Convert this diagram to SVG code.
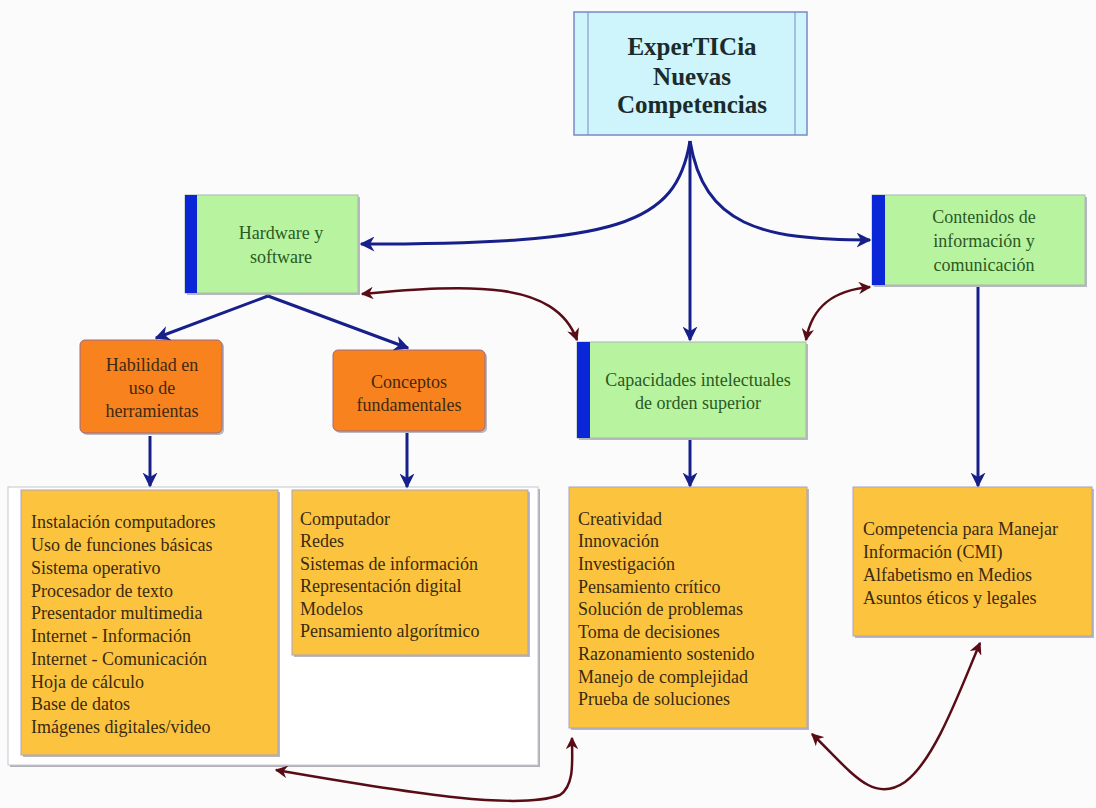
<svg xmlns="http://www.w3.org/2000/svg" width="1096" height="808" viewBox="0 0 1096 808">
<defs>
<marker id="ab" viewBox="0 0 10 10" refX="9" refY="5" markerWidth="5" markerHeight="5" orient="auto-start-reverse" markerUnits="strokeWidth"><path d="M0,0 L10,5 L0,10 L3,5 z" fill="#17208a"/></marker>
<marker id="ar" viewBox="0 0 10 10" refX="9" refY="5" markerWidth="5" markerHeight="5" orient="auto-start-reverse" markerUnits="strokeWidth"><path d="M0,0 L10,5 L0,10 L3,5 z" fill="#5a0c16"/></marker>
<style>
text{font-family:"Liberation Serif","Times New Roman",serif;font-size:18px}
.title{font-weight:bold;font-size:25px;fill:#1b2b2b;text-anchor:middle}
.g{fill:#b8f4a0;stroke:#a8b8b0;stroke-width:1}
.bar{fill:#0b26d6}
.gt{fill:#2a5a22;text-anchor:middle}
.o{fill:#f7821e;stroke:#9a6a8a;stroke-width:1}
.ot{fill:#3e2a12;text-anchor:middle}
.y{fill:#fcc43e;stroke:#a9a2c0;stroke-width:1}
.yt{fill:#3a2a12}
.sh{fill:#b8b8c0}
.cb{fill:none;stroke:#17208a;stroke-width:3}
.cr{fill:none;stroke:#5a0c16;stroke-width:2.5}
</style>
</defs>
<rect width="1096" height="808" fill="#fbfbfb"/>

<g id="frame">
<rect x="10" y="489" width="530" height="278" fill="#b0b0b8"/>
<rect x="8" y="487" width="530" height="278" fill="#ffffff" stroke="#c8c8d0" stroke-width="1"/>
</g>

<g id="top">
<rect x="574" y="12" width="233" height="123" fill="#cdf5fb" stroke="#7a88c8" stroke-width="1.5"/>
<line x1="588" y1="12" x2="588" y2="135" stroke="#7a88c8" stroke-width="1"/>
<line x1="795" y1="12" x2="795" y2="135" stroke="#7a88c8" stroke-width="1"/>
<text class="title" x="692" y="55">ExperTICia</text>
<text class="title" x="692" y="85">Nuevas</text>
<text class="title" x="692" y="113">Competencias</text>
</g>

<g id="hardware">
<rect class="sh" x="187" y="197" width="173" height="98"/>
<rect class="g" x="185" y="195" width="173" height="98"/>
<rect class="bar" x="185" y="195" width="12" height="98"/>
<text class="gt" x="281" y="239">Hardware y</text>
<text class="gt" x="281" y="263">software</text>
</g>

<g id="contenidos">
<rect class="sh" x="874" y="197" width="213" height="90"/>
<rect class="g" x="872" y="195" width="213" height="90"/>
<rect class="bar" x="872" y="195" width="13" height="90"/>
<text class="gt" x="984" y="223">Contenidos de</text>
<text class="gt" x="984" y="247">información y</text>
<text class="gt" x="984" y="271">comunicación</text>
</g>

<g id="capacidades">
<rect class="sh" x="579" y="344" width="229" height="96"/>
<rect class="g" x="577" y="342" width="229" height="96"/>
<rect class="bar" x="577" y="342" width="13" height="96"/>
<text class="gt" x="698" y="386">Capacidades intelectuales</text>
<text class="gt" x="698" y="409">de orden superior</text>
</g>

<g id="habilidad">
<rect class="sh" x="82" y="342" width="142" height="93" rx="5"/>
<rect class="o" x="80" y="340" width="142" height="93" rx="5"/>
<text class="ot" x="152" y="371">Habilidad en</text>
<text class="ot" x="152" y="394">uso de</text>
<text class="ot" x="152" y="417">herramientas</text>
</g>

<g id="conceptos">
<rect class="sh" x="335" y="352" width="152" height="81" rx="5"/>
<rect class="o" x="333" y="350" width="152" height="81" rx="5"/>
<text class="ot" x="409" y="388">Conceptos</text>
<text class="ot" x="409" y="411">fundamentales</text>
</g>

<g id="lista-herramientas">
<rect class="sh" x="23" y="492" width="257" height="265"/>
<rect class="y" x="21" y="490" width="257" height="265"/>
<text class="yt" x="31" y="528">Instalación computadores</text>
<text class="yt" x="31" y="551">Uso de funciones básicas</text>
<text class="yt" x="31" y="574">Sistema operativo</text>
<text class="yt" x="31" y="597">Procesador de texto</text>
<text class="yt" x="31" y="619">Presentador multimedia</text>
<text class="yt" x="31" y="642">Internet - Información</text>
<text class="yt" x="31" y="665">Internet - Comunicación</text>
<text class="yt" x="31" y="688">Hoja de cálculo</text>
<text class="yt" x="31" y="710">Base de datos</text>
<text class="yt" x="31" y="733">Imágenes digitales/video</text>
</g>

<g id="lista-conceptos">
<rect class="sh" x="294" y="492" width="236" height="165"/>
<rect class="y" x="292" y="490" width="236" height="165"/>
<text class="yt" x="300" y="525">Computador</text>
<text class="yt" x="300" y="547">Redes</text>
<text class="yt" x="300" y="570">Sistemas de información</text>
<text class="yt" x="300" y="592">Representación digital</text>
<text class="yt" x="300" y="615">Modelos</text>
<text class="yt" x="300" y="637">Pensamiento algorítmico</text>
</g>

<g id="lista-capacidades">
<rect class="sh" x="571" y="489" width="238" height="241"/>
<rect class="y" x="569" y="487" width="238" height="241"/>
<text class="yt" x="578" y="525">Creatividad</text>
<text class="yt" x="578" y="547">Innovación</text>
<text class="yt" x="578" y="570">Investigación</text>
<text class="yt" x="578" y="593">Pensamiento crítico</text>
<text class="yt" x="578" y="615">Solución de problemas</text>
<text class="yt" x="578" y="638">Toma de decisiones</text>
<text class="yt" x="578" y="660">Razonamiento sostenido</text>
<text class="yt" x="578" y="683">Manejo de complejidad</text>
<text class="yt" x="578" y="705">Prueba de soluciones</text>
</g>

<g id="lista-cmi">
<rect class="sh" x="855" y="489" width="239" height="149"/>
<rect class="y" x="853" y="487" width="239" height="149"/>
<text class="yt" x="863" y="535">Competencia para Manejar</text>
<text class="yt" x="863" y="558">Información (CMI)</text>
<text class="yt" x="863" y="581">Alfabetismo en Medios</text>
<text class="yt" x="863" y="604">Asuntos éticos y legales</text>
</g>

<g id="connectors">
<path class="cb" marker-end="url(#ab)" d="M690,141 C676,225 620,244 361,244"/>
<path class="cb" marker-end="url(#ab)" d="M690,141 C704,225 760,240 870,240"/>
<path class="cb" marker-end="url(#ab)" d="M690,141 L690,340"/>
<path class="cb" marker-end="url(#ab)" d="M268,296 L156,338"/>
<path class="cb" marker-end="url(#ab)" d="M268,296 L408,348"/>
<path class="cb" marker-end="url(#ab)" d="M150,436 L150,486"/>
<path class="cb" marker-end="url(#ab)" d="M407,433 L407,487"/>
<path class="cb" marker-end="url(#ab)" d="M690,440 L690,486"/>
<path class="cb" marker-end="url(#ab)" d="M978,287 L978,486"/>
<path class="cr" marker-start="url(#ar)" marker-end="url(#ar)" d="M362,294 C470,284 555,280 577,340"/>
<path class="cr" marker-start="url(#ar)" marker-end="url(#ar)" d="M806,340 C812,305 835,290 870,287"/>
<path class="cr" marker-start="url(#ar)" marker-end="url(#ar)" d="M276,770 C420,795 520,810 560,795 C575,785 572,760 572,738"/>
<path class="cr" marker-start="url(#ar)" marker-end="url(#ar)" d="M812,734 C850,770 872,805 905,782 C935,760 960,690 980,643"/>
</g>
</svg>
